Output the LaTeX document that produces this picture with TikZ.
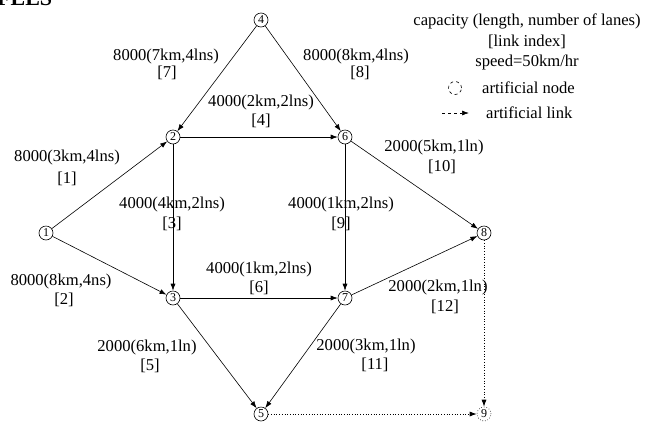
\documentclass[tikz,border=0pt]{standalone}
\usepackage{fontspec}
\setmainfont{Liberation Serif}
\usetikzlibrary{arrows.meta}
\begin{document}
\begin{tikzpicture}[x=1pt,y=-1pt,
  nd/.style={circle,draw,line width=0.6pt,minimum size=14pt,inner sep=0pt,font=\fontsize{12}{12}\selectfont},
  artnd/.style={nd,dotted},
  lbl/.style={inner sep=0pt,anchor=center,font=\fontsize{16.6}{19}\selectfont},
  lnk/.style={line width=0.6pt,-{Latex[length=7pt,width=5pt]}},
  artlnk/.style={line width=0.7pt,dotted,-{Latex[length=7pt,width=5pt]}}]
\useasboundingbox (0,0) rectangle (645,421);
\begin{scope}
\clip (0,0) rectangle (645,421);
\node[anchor=base west,inner sep=0pt,font=\bfseries\fontsize{22}{22}\selectfont] (hdr) at (-3,5) {FEES};
\end{scope}
% nodes
\node[nd] (n1) at (46,233) {1};
\node[nd] (n2) at (173,137) {2};
\node[nd] (n3) at (173,298) {3};
\node[nd] (n4) at (261,20) {4};
\node[nd] (n5) at (261,414) {5};
\node[nd] (n6) at (345,137) {6};
\node[nd] (n7) at (345,298) {7};
\node[nd] (n8) at (484,233) {8};
\node[artnd] (n9) at (484,414) {9};
% links
\draw[lnk] (n4) -- (n2);
\draw[lnk] (n4) -- (n6);
\draw[lnk] (n1) -- (n2);
\draw[lnk] (n1) -- (n3);
\draw[lnk] (n2) -- (n6);
\draw[lnk] (n2) -- (n3);
\draw[lnk] (n6) -- (n7);
\draw[lnk] (n6) -- (n8);
\draw[lnk] (n3) -- (n7);
\draw[lnk] (n7) -- (n8);
\draw[lnk] (n3) -- (n5);
\draw[lnk] (n7) -- (n5);
\draw[artlnk] (n8) -- (n9);
\draw[artlnk] (n5) -- (n9);
% labels
\node[lbl] (c7) at (166,57) {8000(7km,4lns)};
\node[lbl] (i7) at (167,73) {[7]};
\node[lbl] (c8) at (356,57) {8000(8km,4lns)};
\node[lbl] (i8) at (360,73) {[8]};
\node[lbl] (c4) at (261,103) {4000(2km,2lns)};
\node[lbl] (i4) at (261,121) {[4]};
\node[lbl] (c1) at (67,158) {8000(3km,4lns)};
\node[lbl] (i1) at (67,179) {[1]};
\node[lbl] (c3) at (172,205) {4000(4km,2lns)};
\node[lbl] (i3) at (172,224) {[3]};
\node[lbl] (c9) at (341,205) {4000(1km,2lns)};
\node[lbl] (i9) at (341,224) {[9]};
\node[lbl] (c10) at (434,148) {2000(5km,1ln)};
\node[lbl] (i10) at (442,167) {[10]};
\node[lbl] (c2) at (61,282) {8000(8km,4ns)};
\node[lbl] (i2) at (64,300) {[2]};
\node[lbl] (c6) at (259,270) {4000(1km,2lns)};
\node[lbl] (i6) at (259,288) {[6]};
\node[lbl] (c12) at (438,288) {2000(2km,1ln)};
\node[lbl] (i12) at (445,307) {[12]};
\node[lbl] (c5) at (147,348) {2000(6km,1ln)};
\node[lbl] (i5) at (150,366) {[5]};
\node[lbl] (c11) at (366,347) {2000(3km,1ln)};
\node[lbl] (i11) at (375,365) {[11]};
% legend
\node[lbl] (lg1) at (527,21) {capacity (length, number of lanes)};
\node[lbl] (lg2) at (527,42) {[link index]};
\node[lbl] (lg3) at (527,63) {speed=50km/hr};
\node[circle,draw,dashed,line width=0.6pt,minimum size=13pt,inner sep=0pt] (lgc) at (455,88) {};
\node[lbl,anchor=west] (lg4) at (482,88) {artificial node};
\coordinate (la) at (442,113);
\coordinate (lb) at (469,113);
\draw[line width=0.7pt,dashed,-{Latex[length=7pt,width=5pt]}] (la) -- (lb);
\node[lbl,anchor=west] (lg5) at (486,113) {artificial link};
\end{tikzpicture}
\end{document}
